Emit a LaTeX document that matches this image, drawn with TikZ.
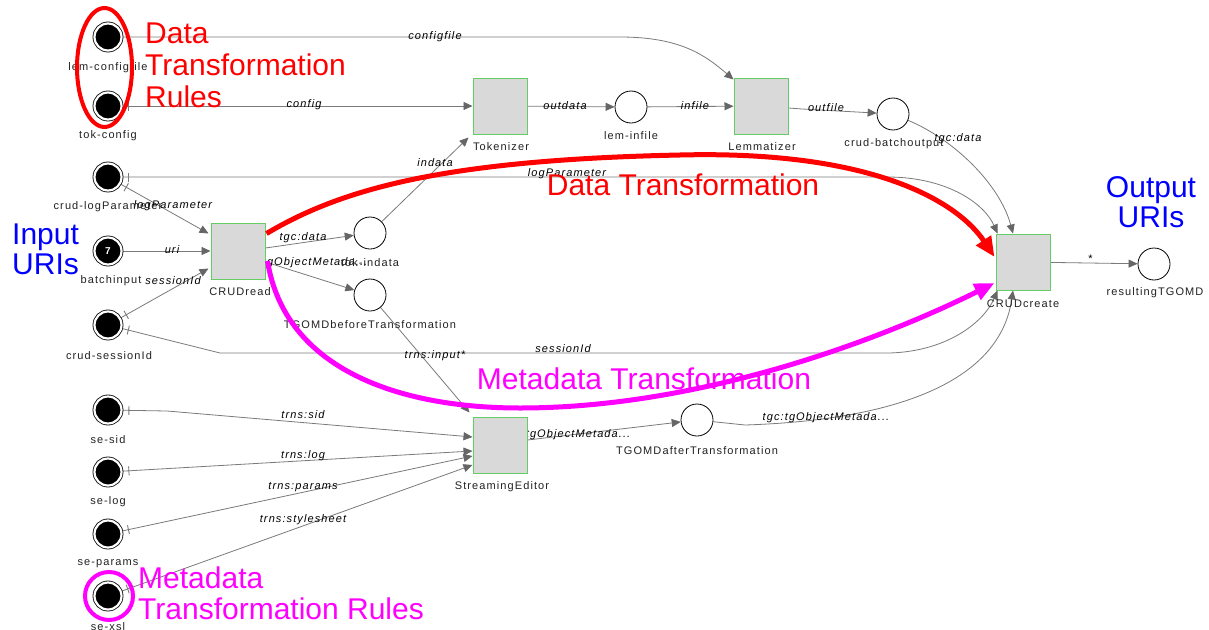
\documentclass[tikz,border=0pt]{standalone}
\usepackage{fontspec}
\setmainfont{Liberation Sans}
\newfontfamily\lblf[LetterSpace=10]{Liberation Sans}
\usetikzlibrary{arrows.meta,calc,decorations.markings,backgrounds}
\definecolor{linegray}{HTML}{7A7A7A}
\definecolor{tipgray}{HTML}{666666}
\definecolor{trfill}{HTML}{D9D9D9}
\definecolor{trgreen}{HTML}{66CC66}
\definecolor{annred}{HTML}{FF0000}
\definecolor{annmag}{HTML}{FF00FF}
\definecolor{annblue}{HTML}{0000FF}
\definecolor{lbltext}{HTML}{222222}
\begin{document}
\begin{tikzpicture}[x=1pt,y=-1pt,
  bplace/.style={circle, inner sep=0pt, minimum size=27pt, fill=black, draw=black, line width=0.8pt, double=white, double distance=2.2pt},
  wplace/.style={circle, inner sep=0pt, minimum size=32pt, fill=white, draw=black, line width=0.8pt},
  trans/.style={rectangle, inner sep=0pt, minimum width=54pt, minimum height=56pt, fill=trfill, draw=trgreen, line width=1pt},
  nlbl/.style={inner sep=0pt, font=\lblf\fontsize{11}{12}\selectfont, text=lbltext},
  elbl/.style={inner sep=0pt, font=\lblf\itshape\fontsize{11}{12}\selectfont, text=black},
  conn/.style={draw=linegray, line width=0.8pt, -{Triangle[length=9pt,width=8pt,color=tipgray]}},
  startbar/.style={postaction={decorate, decoration={markings, mark=at position 7pt with {\draw[-, draw=linegray, line width=0.9pt] (0pt,-4.5pt) -- (0pt,4.5pt);}}}},
  bigtxt/.style={inner sep=0pt},
  bigred/.style={draw=annred, line width=5pt, -{Triangle[length=20pt,width=17pt,color=annred]}},
  bigmag/.style={draw=annmag, line width=5pt, -{Triangle[length=20pt,width=17pt,color=annmag]}},
]
\useasboundingbox (0,0) rectangle (1209,629);

% black places
\node[bplace] (lemcfg) at (108,37) {};
\node[bplace] (tokcfg) at (108,106) {};
\node[bplace] (crudlog) at (108,177) {};
\node[bplace, font=\bfseries\fontsize{10}{10}\selectfont, text=white] (batch) at (108,251) {7};
\node[bplace] (crudsid) at (108,325) {};
\node[bplace] (sesid) at (108,410) {};
\node[bplace] (selog) at (108,472) {};
\node[bplace] (separ) at (108,534) {};
\node[bplace] (sexsl) at (108,596) {};

% white places
\node[wplace] (leminf) at (631,107) {};
\node[wplace] (crudbo) at (893,114) {};
\node[wplace] (tokin) at (370,233) {};
\node[wplace] (tgomdb) at (370,295) {};
\node[wplace] (tgomda) at (697,420) {};
\node[wplace] (result) at (1154,264) {};

% transitions
\node[trans] (Tok) at (500,106) {};
\node[trans] (Lemm) at (761,106) {};
\node[trans] (CRUDread) at (238,251) {};
\node[trans] (CRUDcreate) at (1023,262) {};
\node[trans] (SE) at (500,445) {};

% node labels
\node[nlbl] (Llemcfg) at (108,68) {lem-configfile};
\node[nlbl] (Ltokcfg) at (108,136) {tok-config};
\node[nlbl] (Lcrudlog) at (108,207) {crud-logParameter};
\node[nlbl] (Lbatch) at (111,281) {batchinput};
\node[nlbl] (Lcrudsid) at (109,356) {crud-sessionId};
\node[nlbl] (Lsesid) at (108,440) {se-sid};
\node[nlbl] (Lselog) at (108,502) {se-log};
\node[nlbl] (Lsepar) at (108,564) {se-params};
\node[nlbl] (Lsexsl) at (108,627) {se-xsl};
\node[nlbl] (Lleminf) at (631,136) {lem-infile};
\node[nlbl] (Lcrudbo) at (894,144) {crud-batchoutput};
\node[nlbl] (Ltokin) at (370,263) {tok-indata};
\node[nlbl] (Ltgomdb) at (370,325) {TGOMDbeforeTransformation};
\node[nlbl] (Ltgomda) at (697,451) {TGOMDafterTransformation};
\node[nlbl] (Lresult) at (1155,293) {resultingTGOMD};
\node[nlbl] (LTok) at (501,147) {Tokenizer};
\node[nlbl] (LLemm) at (762,147) {Lemmatizer};
\node[nlbl] (LCRUDread) at (240,292) {CRUDread};
\node[nlbl] (LCRUDcreate) at (1023,304) {CRUDcreate};
\node[nlbl] (LSE) at (502,487) {StreamingEditor};

\begin{pgfonlayer}{background}
\fill[white] (0,0) rectangle (1209,629);
% connectors
\draw[conn, startbar] (lemcfg) -- (620,37) .. controls (680,37) and (705,55) .. ($(Lemm.north west)+(0,2)$);
\node[elbl] (e1) at (435,37) {configfile};
\draw[conn, startbar] (tokcfg) -- (Tok);
\node[elbl] (e2) at (304,105) {config};
\draw[conn] (Tok) -- (leminf);
\node[elbl] (e3) at (565,106) {outdata};
\draw[conn] (leminf) -- (Lemm);
\node[elbl] (e4) at (695,106) {infile};
\draw[conn] ($(Lemm.east)+(0,2)$) -- (802,109) -- (crudbo);
\node[elbl] (e5) at (826,108) {outfile};
\draw[conn] (crudbo) .. controls (955,140) and (1000,185) .. ($(CRUDcreate.north)+(-10,0)$);
\node[elbl] (e6) at (958,139) {tgc:data};
\draw[conn, startbar] (crudlog) -- (890,177) .. controls (950,178) and (985,205) .. ($(CRUDcreate.north west)+(2,0)$);
\node[elbl] (e7) at (567,174) {logParameter};
\draw[conn, startbar] (crudlog) -- ($(CRUDread.north west)+(-2,11)$);
\node[elbl] (e8) at (173,206) {logParameter};
\draw[conn] (batch) -- (CRUDread);
\node[elbl] (e9) at (172,250) {uri};
\draw[conn, startbar] (crudsid) -- ($(CRUDread.south west)+(-2,-11)$);
\node[elbl] (e10) at (173,281) {sessionId};
\draw[conn, startbar] (crudsid) -- (220,353) -- (890,353) .. controls (950,351) and (985,320) .. ($(CRUDcreate.south west)+(2,0)$);
\node[elbl] (e11) at (563,349) {sessionId};
\draw[conn] (tgomda) -- (745,425) .. controls (900,420) and (1000,380) .. ($(CRUDcreate.south)+(-10,0)$);
\node[elbl] (e12) at (826,418) {tgc:tgObjectMetada...};
\draw[conn] ($(CRUDread.east)+(0,-3)$) -- (tokin);
\node[elbl] (e13) at (303,238) {tgc:data};
\draw[conn] ($(CRUDread.east)+(0,11)$) -- (tgomdb);
\node[elbl] (e14) at (304,263) {tgc:tgObjectMetada...};
\draw[conn] (tokin) -- ($(Tok.south west)+(-4,3)$);
\node[elbl] (e15) at (435,163) {indata};
\draw[conn] (tgomdb) -- ($(SE.north west)+(-3,-4)$);
\node[elbl] (e16) at (435,356) {trns:input*};
\draw[conn] ($(SE.east)+(0,-5)$) -- (tgomda);
\node[elbl] (e17) at (567,435) {tgc:tgObjectMetada...};
\draw[conn, startbar] (sesid) -- (167,411) -- ($(SE.west)+(0,-8)$);
\node[elbl] (e18) at (303,415) {trns:sid};
\draw[conn, startbar] (selog) -- ($(SE.west)+(0,6)$);
\node[elbl] (e19) at (303,456) {trns:log};
\draw[conn, startbar] (separ) -- ($(SE.west)+(0,11)$);
\node[elbl] (e20) at (303,487) {trns:params};
\draw[conn, startbar] (sexsl) -- ($(SE.west)+(0,20)$);
\node[elbl] (e21) at (303,520) {trns:stylesheet};
\draw[conn] (CRUDcreate) -- (result);
\node[elbl] (e22) at (1090,259) {*};
\end{pgfonlayer}

% annotations
\draw[annred, line width=4pt] (104.5,67.5) ellipse [x radius=27.5pt, y radius=59.5pt];
\draw[annmag, line width=4pt] (109,596) circle [radius=24pt];
\draw[bigred] ($(CRUDread.north east)+(1,11)$) .. controls (340,190) and (440,160) .. (680,155) .. controls (880,150) and (960,205) .. ($(CRUDcreate.west)+(-1,-5)$);
\draw[bigmag] ($(CRUDread.east)+(2,10)$) .. controls (285,370) and (400,408) .. (520,408) .. controls (700,408) and (880,340) .. ($(CRUDcreate.west)+(-1,21)$);

\node[bigtxt, text=annred, anchor=north west, align=left, font=\fontsize{30}{32}\selectfont] (tDTR) at (145,23) {Data\\Transformation\\Rules};
\node[bigtxt, text=annred, font=\fontsize{30}{30}\selectfont] (tDT) at (683,185) {Data Transformation};
\node[bigtxt, text=annmag, font=\fontsize{30}{30}\selectfont] (tMT) at (644,379) {Metadata Transformation};
\node[bigtxt, text=annmag, anchor=north west, align=left, font=\fontsize{30}{31}\selectfont] (tMTR) at (138,567) {Metadata\\Transformation Rules};
\node[bigtxt, text=annblue, anchor=north west, align=left, font=\fontsize{30}{30}\selectfont] (tIn) at (12,224) {Input\\URIs};
\node[bigtxt, text=annblue, anchor=north, align=center, font=\fontsize{30}{30}\selectfont] (tOut) at (1151,176) {Output\\URIs};
\end{tikzpicture}
\end{document}
